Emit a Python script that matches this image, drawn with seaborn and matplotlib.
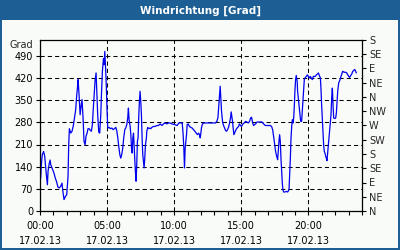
import matplotlib
matplotlib.use("Agg")
import matplotlib.pyplot as plt
import matplotlib.patches as mpatches
from matplotlib.ticker import MultipleLocator, FixedLocator
import seaborn as sns
import pandas as pd

# ---- data (hour of day on 17.02.13, wind direction in degrees) ----
hours = [
    0.05, 0.10, 0.17, 0.27, 0.35, 0.45, 0.55, 0.60, 0.67, 0.75, 0.80, 0.85, 0.95,
    1.04, 1.14, 1.24, 1.34, 1.44, 1.54, 1.64, 1.69, 1.79, 1.89, 1.99, 2.04, 2.09,
    2.14, 2.19, 2.29, 2.39, 2.49, 2.59, 2.66, 2.74, 2.79, 2.84, 2.91, 2.99, 3.06,
    3.13, 3.21, 3.28, 3.36, 3.43, 3.51, 3.58, 3.66, 3.76, 3.83, 3.91, 3.96, 4.03,
    4.10, 4.18, 4.23, 4.30, 4.38, 4.45, 4.53, 4.58, 4.65, 4.73, 4.78, 4.83, 4.90,
    4.95, 5.00, 5.05,
    5.15, 5.25, 5.35, 5.45, 5.55, 5.65, 5.72, 5.80, 5.87, 5.95, 6.02, 6.09, 6.17,
    6.24, 6.32, 6.39, 6.47, 6.54, 6.59, 6.64, 6.72, 6.77, 6.82, 6.87, 6.92, 6.97,
    7.01, 7.06, 7.11, 7.16, 7.21, 7.26, 7.31, 7.36, 7.41, 7.46, 7.51, 7.56, 7.61,
    7.66, 7.71, 7.76, 7.81, 7.86, 7.93, 7.96, 8.03, 8.11, 8.18, 8.26, 8.33, 8.46,
    8.58, 8.71, 8.83, 8.96, 9.08, 9.20, 9.33, 9.45, 9.58, 9.70, 9.83, 10.02,
    10.22, 10.35, 10.47, 10.60, 10.67, 10.72, 10.77, 10.82, 10.87, 10.92, 10.97,
    11.04, 11.14, 11.24, 11.34, 11.44, 11.54, 11.64, 11.74, 11.82, 11.89, 11.94,
    11.99, 12.04, 12.11, 12.21, 12.34, 12.59, 12.84, 13.08, 13.18, 13.26, 13.33,
    13.38, 13.43, 13.48, 13.53, 13.61, 13.68, 13.76, 13.83, 13.91, 13.98, 14.05,
    14.13, 14.20, 14.25, 14.30, 14.35, 14.40, 14.45, 14.50, 14.58, 14.65, 14.73,
    14.80, 14.86, 14.95, 15.02,
    15.12, 15.22, 15.32, 15.42, 15.52, 15.62, 15.70, 15.77, 15.85, 15.92, 16.00,
    16.07, 16.17, 16.29, 16.42, 16.54, 16.67, 16.79, 16.92, 17.04, 17.16, 17.26,
    17.34, 17.41, 17.49, 17.56, 17.64, 17.71, 17.76, 17.81, 17.86, 17.91, 17.96,
    18.01, 18.06, 18.11, 18.16, 18.26, 18.36, 18.46, 18.56, 18.61, 18.66, 18.71,
    18.76, 18.81, 18.86, 18.91, 18.96, 19.00, 19.05, 19.10, 19.17, 19.20, 19.28,
    19.35, 19.43,
    19.50, 19.55, 19.60, 19.65, 19.70, 19.78, 19.85, 19.93, 20.00, 20.07, 20.15,
    20.22, 20.30, 20.37, 20.45, 20.52, 20.60, 20.67, 20.75, 20.82, 20.90, 20.95,
    20.99, 21.04, 21.09, 21.14, 21.19, 21.24, 21.29, 21.34, 21.39, 21.44, 21.49,
    21.54, 21.59, 21.64, 21.69, 21.74, 21.79, 21.84, 21.89, 21.97, 22.04, 22.09,
    22.14, 22.19, 22.26, 22.34, 22.41, 22.49, 22.56, 22.64, 22.71, 22.79, 22.86,
    22.94, 23.01, 23.08, 23.16, 23.23, 23.31, 23.38, 23.46, 23.53, 23.58,
]
direction = [
    104, 146, 178, 188, 173, 125, 83, 125, 146, 161, 146, 141, 130,
    120, 104, 92, 75, 73, 78, 88, 67, 36, 46, 51, 78, 109,
    209, 260, 246, 252, 271, 299, 320, 367, 388, 415, 367, 304, 331,
    352, 294, 220, 209, 236, 246, 260, 260, 254, 252, 275, 315, 362,
    409, 436, 378, 304, 249, 246, 304, 367, 441, 481, 462, 504, 441,
    383, 315, 262,
    264, 260, 262, 257, 260, 264, 254, 231, 204, 178, 167, 178, 199,
    231, 257, 262, 273, 294, 325, 288, 267, 241, 199, 183, 231, 246,
    209, 167, 125, 94, 146, 220, 231, 299, 346, 378, 346, 304, 231,
    178, 157, 136, 167, 209, 231, 252, 264, 260, 262, 260, 264, 267,
    267, 270, 270, 275, 270, 275, 278, 275, 278, 278, 275, 273,
    270, 278, 278, 278, 241, 199, 136, 199, 220, 241, 273,
    275, 267, 264, 262, 257, 252, 246, 241, 246, 241, 231,
    246, 264, 275, 278, 278, 278, 278, 278, 283, 294, 336,
    367, 394, 352, 315, 281, 270, 262, 254, 252, 257, 264,
    278, 294, 313, 299, 283, 262, 241, 246, 254, 260, 264,
    267, 275, 270, 267,
    275, 278, 283, 281, 278, 283, 294, 296, 278, 270, 273,
    275, 281, 281, 281, 281, 275, 270, 270, 270, 270, 267,
    257, 236, 209, 188, 173, 162, 188, 220, 241, 220, 167,
    125, 88, 67, 60, 60, 62, 60, 67, 115, 167, 231,
    267, 288, 278, 294, 336, 378, 415, 428, 409, 378, 346,
    315, 283,
    283, 315, 346, 378, 415, 422, 425, 430, 425, 420, 425,
    420, 415, 425, 425, 425, 430, 432, 436, 428, 420, 378,
    336, 294, 252, 209, 188, 183, 173, 167, 159, 183, 209,
    231, 252, 278, 304, 357, 388, 336, 294, 292, 294, 310,
    346, 378, 404, 412, 422, 432, 441, 439, 438, 438, 436,
    430, 425, 422, 428, 432, 441, 444, 447, 441, 436,
]

title = "Windrichtung [Grad]"
y_label = "Grad"
x_tick_hours = [0, 5, 10, 15, 20]
x_tick_labels = ["00:00\n17.02.13", "05:00\n17.02.13", "10:00\n17.02.13",
                 "15:00\n17.02.13", "20:00\n17.02.13"]
left_ticks = [0, 70, 140, 210, 280, 350, 420, 490]
right_ticks = [0, 45, 90, 135, 180, 225, 270, 315, 360, 405, 450, 495, 540]
right_labels = ["N", "NE", "E", "SE", "S", "SW", "W", "NW", "N", "NE", "E", "SE", "S"]

# ---- style ----
sns.set_style("white")
plt.rcParams["font.family"] = ["DejaVu Sans"]

BLUE = "#1d5f94"
PANEL = "#f8fbf8"

fig = plt.figure(figsize=(4, 2.5), dpi=100, facecolor=BLUE)
bg = mpatches.Rectangle((2 / 400, 2 / 250), 396 / 400, 228 / 250,
                        transform=fig.transFigure, facecolor=PANEL,
                        edgecolor="none", zorder=-10)
fig.add_artist(bg)
fig.text(0.5, 1 - 10.5 / 250, title, color="white", fontsize=7.5,
         fontweight="bold", ha="center", va="center")

ax = fig.add_axes([40 / 400, 1 - 211 / 250, 322 / 400, 171 / 250])
ax.set_facecolor(PANEL)

df = pd.DataFrame({"hour": hours, "direction": direction})
sns.lineplot(data=df, x="hour", y="direction", ax=ax, color="#0000ee",
             linewidth=0.9, estimator=None, sort=False)

ax.set_xlim(0, 24)
ax.set_ylim(0, 540)
ax.set_xlabel("")
ax.set_ylabel("")

ax.xaxis.set_major_locator(FixedLocator(x_tick_hours))
ax.set_xticklabels(x_tick_labels, fontsize=7, linespacing=1.6)
ax.xaxis.set_minor_locator(MultipleLocator(1))
ax.yaxis.set_major_locator(FixedLocator(left_ticks))
ax.set_yticklabels([str(v) for v in left_ticks], fontsize=7)

ax.tick_params(axis="both", which="both", direction="out", color="black",
               length=3, width=0.8, pad=2, labelcolor="black")
ax.tick_params(axis="x", which="major", pad=4)
ax.tick_params(axis="both", which="both", bottom=True, left=True)

ax.grid(True, which="major", color="black", linestyle=(0, (4, 3)), linewidth=0.75)
for s in ax.spines.values():
    s.set_color("black")
    s.set_linewidth(0.9)

ax.text(-0.02, 1.0, y_label, transform=ax.transAxes, ha="right", va="top",
        fontsize=7)

ax2 = ax.twinx()
ax2.set_ylim(0, 540)
ax2.yaxis.set_major_locator(FixedLocator(right_ticks))
ax2.set_yticklabels(right_labels, fontsize=7)
ax2.tick_params(axis="y", direction="out", length=3, width=0.8, pad=2,
                color="black", right=True)
ax2.grid(False)
for s in ax2.spines.values():
    s.set_visible(False)

fig.savefig("out.png", dpi=100, facecolor=BLUE)
